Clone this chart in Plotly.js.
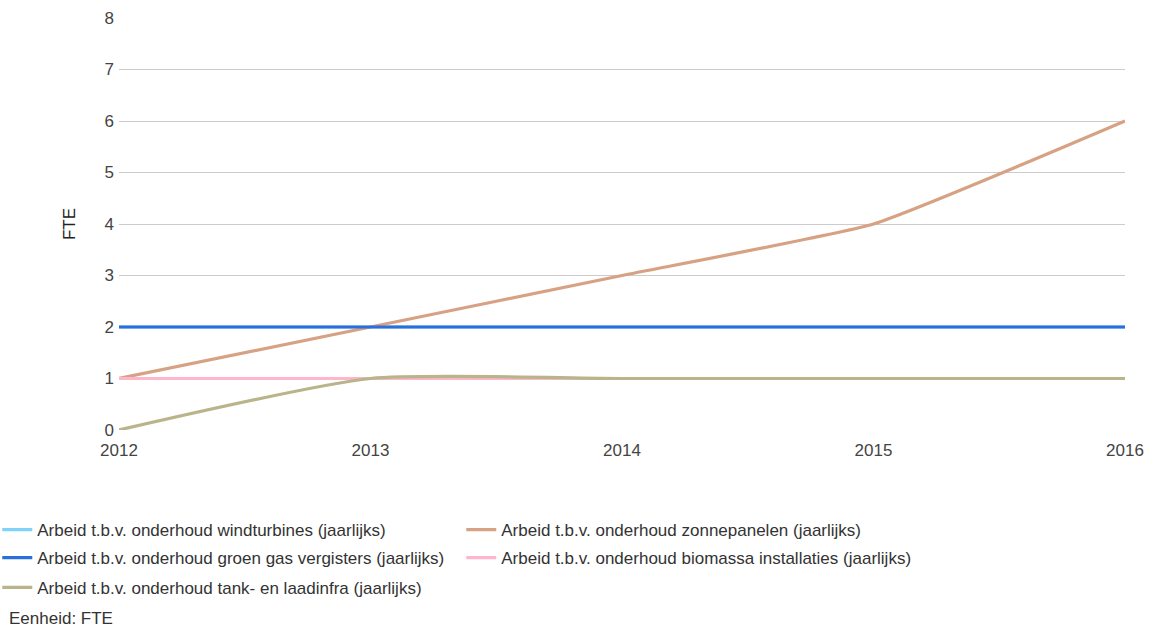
<!DOCTYPE html>
<html>
<head>
<meta charset="utf-8">
<script src="https://cdn.plot.ly/plotly-3.0.1.min.js"></script>
<style>
html,body{margin:0;padding:0;background:#fff;}
#chart{width:1149px;height:628px;}
</style>
</head>
<body>
<div id="chart"></div>
<script>
// Data
var years = [2012, 2013, 2014, 2015, 2016];
var windturbines = [2, 2, 2, 2, 2];
var zonnepanelen = [1, 2, 3, 4, 6];
var groenGas = [2, 2, 2, 2, 2];
var biomassa = [1, 1, 1, 1, 1];
var tankLaadinfra = [0, 1, 1, 1, 1];
var seriesNames = [
  "Arbeid t.b.v. onderhoud windturbines (jaarlijks)",
  "Arbeid t.b.v. onderhoud zonnepanelen (jaarlijks)",
  "Arbeid t.b.v. onderhoud groen gas vergisters (jaarlijks)",
  "Arbeid t.b.v. onderhoud biomassa installaties (jaarlijks)",
  "Arbeid t.b.v. onderhoud tank- en laadinfra (jaarlijks)"
];
var yTicks = [0, 1, 2, 3, 4, 5, 6, 7, 8];
var xTicks = [2012, 2013, 2014, 2015, 2016];

var colors = ["#7fd3fb", "#d6a283", "#2a6fdc", "#fdb6cc", "#b9b48a"];
var smooth = [0.4, 0.4, 0.4, 0.4, 0.6];
var legendIds = ["legend", "legend", "legend2", "legend2", "legend3"];
var seriesData = [windturbines, zonnepanelen, groenGas, biomassa, tankLaadinfra];

var traces = seriesData.map(function (ys, i) {
  return {
    x: years, y: ys, name: seriesNames[i], type: "scatter", mode: "lines",
    legend: legendIds[i],
    line: {color: colors[i], width: 3.2, shape: "spline", smoothing: smooth[i]},
    hoverinfo: "x+y+name"
  };
});

var fam = "Liberation Sans, Arial, sans-serif";
var fs = 17;

function legendAt(yPaper) {
  return {
    orientation: "h", x: -0.121, xanchor: "left", y: yPaper, yanchor: "middle",
    entrywidth: 419, entrywidthmode: "pixels", tracegroupgap: 0,
    bgcolor: "rgba(0,0,0,0)",
    font: {family: fam, size: fs, color: "#333"}, itemwidth: 30
  };
}

var layout = {
  width: 1149, height: 628,
  margin: {l: 119, r: 24, t: 18, b: 198, autoexpand: false},
  paper_bgcolor: "#fff", plot_bgcolor: "#fff",
  font: {family: fam, size: fs, color: "#444"},
  showlegend: true,
  xaxis: {
    range: [2012, 2016], tickvals: xTicks, ticktext: xTicks.map(String),
    showgrid: false, zeroline: false, showline: false, ticks: "",
    ticklabelstandoff: 8, automargin: false,
    tickfont: {family: fam, size: fs, color: "#444"}
  },
  yaxis: {
    range: [0, 8], tickvals: yTicks, showgrid: true, gridcolor: "#cccccc", gridwidth: 1,
    zeroline: false, showline: false, ticks: "",
    ticklabelstandoff: 4, automargin: false,
    tickfont: {family: fam, size: fs, color: "#444"},
    title: {text: "FTE", font: {family: fam, size: fs, color: "#222"}, standoff: 24}
  },
  legend: legendAt(-0.243),
  legend2: legendAt(-0.311),
  legend3: legendAt(-0.383),
  annotations: [{
    text: "Eenheid: FTE", xref: "paper", yref: "paper",
    x: -0.111, y: -0.458, xanchor: "left", yanchor: "middle", showarrow: false,
    font: {family: fam, size: fs, color: "#333"}
  }]
};

Plotly.newPlot("chart", traces, layout, {displayModeBar: false, staticPlot: true});
</script>
</body>
</html>
